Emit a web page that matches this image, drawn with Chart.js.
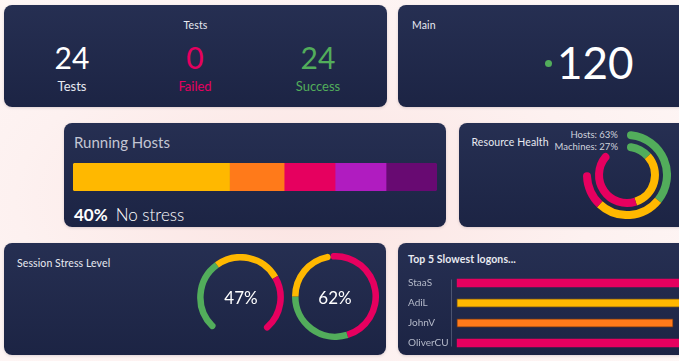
<!DOCTYPE html>
<html>
<head>
<meta charset="utf-8">
<script src="https://cdn.jsdelivr.net/npm/chart.js@4.4.0/dist/chart.umd.min.js"></script>
<style>
  html, body { margin: 0; padding: 0; }
  body {
    width: 679px; height: 361px; overflow: hidden; position: relative;
    font-family: Lato, "Open Sans", sans-serif;
    background: radial-gradient(ellipse at 45% 55%, #fbe3e1 0%, #fdf1f0 55%, #fef8f7 100%);
  }
  .card {
    position: absolute; overflow: hidden; border-radius: 8px;
    background: linear-gradient(180deg, #262f52 0%, #1c2444 100%);
    box-shadow: 0 1px 3px rgba(40, 20, 40, 0.15);
  }
  .abs { position: absolute; white-space: nowrap; line-height: 1; }
  .title { font-size: 10.5px; color: #e8eaf1; letter-spacing: 0.1px; }
  canvas { position: absolute; }
  .kpi { width: 120px; text-align: center; }
</style>
</head>
<body>

<div class="card" id="tests-card" style="left:4px; top:5px; width:383px; height:102px;">
  <div class="abs title" style="left:0; width:383px; text-align:center; top:15px;">Tests</div>
</div>

<div class="card" id="main-card" style="left:398px; top:5px; width:300px; height:102px;">
  <div class="abs title" style="left:14px; top:15px;">Main</div>
  <div class="abs" style="left:146.5px; top:54.5px; width:7px; height:7px; border-radius:50%; background:#52ad5b;"></div>
  <div class="abs" id="main-value" style="left:159px; top:35px; font-size:44px; color:#fff;"></div>
</div>

<div class="card" id="hosts-card" style="left:64px; top:123px; width:382px; height:104px;">
  <div class="abs" style="left:10px; top:12px; font-size:15px; color:#c3c6d3;">Running Hosts</div>
  <canvas id="hosts-bar" width="364" height="28" style="left:9px; top:40px;"></canvas>
  <div class="abs" id="hosts-note" style="left:10px; top:83px; font-size:17px; color:#fff;"></div>
</div>

<div class="card" id="resource-card" style="left:459px; top:123px; width:240px; height:104px;">
  <div class="abs title" style="left:12.5px; top:13.5px;">Resource Health</div>
  <div class="abs" id="res-label-0" style="right:81px; top:7px; font-size:9.5px; color:#d0d3dd; text-align:right;"></div>
  <div class="abs" id="res-label-1" style="right:81px; top:18.5px; font-size:9.5px; color:#d0d3dd; text-align:right;"></div>
  <canvas id="resource-ring" width="88" height="88" style="left:124px; top:7.5px;"></canvas>
</div>

<div class="card" id="stress-card" style="left:4px; top:243px; width:382px; height:112px;">
  <div class="abs title" style="left:13px; top:15px;">Session Stress Level</div>
  <canvas id="gauge-1" width="87" height="78" style="left:193px; top:11px;"></canvas>
  <canvas id="gauge-2" width="87" height="87" style="left:288px; top:10px;"></canvas>
  <div class="abs" id="gauge-1-text" style="left:197px; width:80px; text-align:center; top:45.5px; font-size:17px; color:#fff;"></div>
  <div class="abs" id="gauge-2-text" style="left:291px; width:80px; text-align:center; top:45.5px; font-size:17px; color:#fff;"></div>
</div>

<div class="card" id="logons-card" style="left:398px; top:243px; width:320px; height:112px;">
  <div class="abs title" style="left:10px; top:11px; font-weight:700;">Top 5 Slowest logons...</div>
  <canvas id="logons-bar" width="343" height="92" style="left:10px; top:24px;"></canvas>
</div>

<script>
// KPI values
const testLabels = ['Tests', 'Failed', 'Success'];
const testCounts = [24, 0, 24];
const mainValue = 120;

// Running hosts by stress level (share of hosts, %)
const stressLevels = ['No stress', 'Low', 'Medium', 'High', 'Critical'];
const runningHosts = [43, 15, 14, 14, 14];
const hostsHeadline = 40;

// Resource health rings (arc sizes in degrees: good, warning, critical, empty)
const resourceLabels = ['Hosts', 'Machines'];
const resourcePct = [63, 27];
const hostsArcs = [129, 94, 51, 86];
const machinesArcs = [48, 114, 156, 42];

// Session stress gauges (arc sizes in degrees)
const sessionStress = [47, 62];
const gaugeOneArcs = [104, 96, 83];   // green, yellow, red
const gaugeTwoArcs = [170, 107, 83];  // red, green, yellow

// Slowest logons
const logonUsers = ['StaaS', 'AdiL', 'JohnV', 'OliverCU'];
const logonTimes = [92, 88, 73.5, 85];

const GREEN = '#52ad5b';
const YELLOW = '#ffb800';
const ORANGE = '#ff7a1a';
const RED = '#e6005f';
const PURPLE = '#b01cc0';
const PLUM = '#680a72';

Chart.defaults.font.family = 'Lato';
Chart.defaults.animation = false;
Chart.defaults.plugins.legend.display = false;
Chart.defaults.plugins.tooltip.enabled = false;

// Tests KPI columns
const testColors = ['#ffffff', RED, GREEN];
const testLabelColors = ['#e8eaf1', RED, GREEN];
const testsCard = document.getElementById('tests-card');
[8, 131, 254].forEach((left, i) => {
    const num = document.createElement('div');
    num.className = 'abs kpi';
    num.style.cssText = `left:${left}px; top:37px; font-size:30px; color:${testColors[i]};`;
    num.textContent = testCounts[i];
    testsCard.appendChild(num);

    const lbl = document.createElement('div');
    lbl.className = 'abs kpi';
    lbl.style.cssText = `left:${left}px; top:74.5px; font-size:13px; color:${testLabelColors[i]};`;
    lbl.textContent = testLabels[i];
    testsCard.appendChild(lbl);
});

document.getElementById('main-value').textContent = mainValue;
document.getElementById('hosts-note').innerHTML =
    `<span style="font-weight:700">${hostsHeadline}%</span><span style="font-weight:300; margin-left:8px">${stressLevels[0]}</span>`;
resourceLabels.forEach((name, i) => {
    document.getElementById('res-label-' + i).textContent = `${name}: ${resourcePct[i]}%`;
});
document.getElementById('gauge-1-text').textContent = sessionStress[0] + '%';
document.getElementById('gauge-2-text').textContent = sessionStress[1] + '%';

// Running hosts stacked bar
const stressColors = [YELLOW, ORANGE, RED, PURPLE, PLUM];
const lastLevel = stressLevels.length - 1;
new Chart(document.getElementById('hosts-bar'), {
    type: 'bar',
    data: {
        labels: ['Hosts'],
        datasets: stressLevels.map((level, i) => ({
            label: level,
            data: [runningHosts[i]],
            backgroundColor: stressColors[i],
            borderWidth: 0,
            borderSkipped: false,
            borderRadius: i === 0 ? { topLeft: 3, bottomLeft: 3 }
                : i === lastLevel ? { topRight: 3, bottomRight: 3 } : 0,
            barPercentage: 1,
            categoryPercentage: 1
        }))
    },
    options: {
        indexAxis: 'y',
        responsive: false,
        devicePixelRatio: 1,
        layout: { padding: 0 },
        scales: {
            x: { stacked: true, display: false, min: 0, max: 100 },
            y: { stacked: true, display: false }
        }
    }
});

// rounded caps only on the first and last visible arc
function capRadius(r, lastIndex) {
    return (ctx) => {
        if (ctx.dataIndex === 0) return { outerStart: r, innerStart: r, outerEnd: 0, innerEnd: 0 };
        if (ctx.dataIndex === lastIndex) return { outerStart: 0, innerStart: 0, outerEnd: r, innerEnd: r };
        return 0;
    };
}

// Resource health rings
new Chart(document.getElementById('resource-ring'), {
    type: 'doughnut',
    data: {
        datasets: [
            { data: hostsArcs, backgroundColor: [GREEN, YELLOW, RED, 'transparent'], weight: 8, borderWidth: 0, borderRadius: capRadius(4, 2) },
            { data: [1], backgroundColor: ['transparent'], weight: 4, borderWidth: 0 },
            { data: machinesArcs, backgroundColor: [GREEN, YELLOW, RED, 'transparent'], weight: 8, borderWidth: 0, borderRadius: capRadius(4, 2) }
        ]
    },
    options: {
        responsive: false,
        devicePixelRatio: 1,
        cutout: '54.5%',
        layout: { padding: 0 }
    }
});

// Session stress gauges
function drawGauge(id, arcs, colors, rotation, circumference) {
    new Chart(document.getElementById(id), {
        type: 'doughnut',
        data: {
            datasets: [{
                data: arcs,
                backgroundColor: colors,
                borderWidth: 0,
                borderRadius: capRadius(3.2, arcs.length - 1)
            }]
        },
        options: {
            responsive: false,
            devicePixelRatio: 1,
            cutout: '85%',
            rotation: rotation,
            circumference: circumference,
            layout: { padding: 0 }
        }
    });
}
drawGauge('gauge-1', gaugeOneArcs, [GREEN, YELLOW, RED], -140, 283);
drawGauge('gauge-2', gaugeTwoArcs, [RED, GREEN, YELLOW], -7, 360);

// Slowest logons
const axisLine = {
    id: 'axisLine',
    afterDraw(chart) {
        const y = chart.scales.y;
        const x = chart.chartArea.left + 0.5;
        const ctx = chart.ctx;
        ctx.save();
        ctx.strokeStyle = 'rgba(190, 196, 215, 0.28)';
        ctx.lineWidth = 1;
        ctx.beginPath();
        ctx.moveTo(x, y.getPixelForTick(0) - 3.5);
        ctx.lineTo(x, y.getPixelForTick(logonUsers.length - 1) + 3.5);
        ctx.stroke();
        ctx.restore();
    }
};

new Chart(document.getElementById('logons-bar'), {
    type: 'bar',
    data: {
        labels: logonUsers,
        datasets: [{
            data: logonTimes,
            backgroundColor: [RED, YELLOW, ORANGE, RED],
            borderColor: [RED, '#8d6414', '#7c3c16', RED],
            borderWidth: 1,
            borderSkipped: false,
            barThickness: 8.5
        }]
    },
    options: {
        indexAxis: 'y',
        responsive: false,
        devicePixelRatio: 1,
        layout: { padding: 0 },
        scales: {
            x: { display: false, min: -2, max: 100 },
            y: {
                afterFit: (scale) => { scale.width = 43; },
                grid: { display: false },
                border: { display: false },
                ticks: { color: '#b4b9c9', font: { size: 10 }, crossAlign: 'far', padding: 0 }
            }
        }
    },
    plugins: [axisLine]
});
</script>
</body>
</html>
